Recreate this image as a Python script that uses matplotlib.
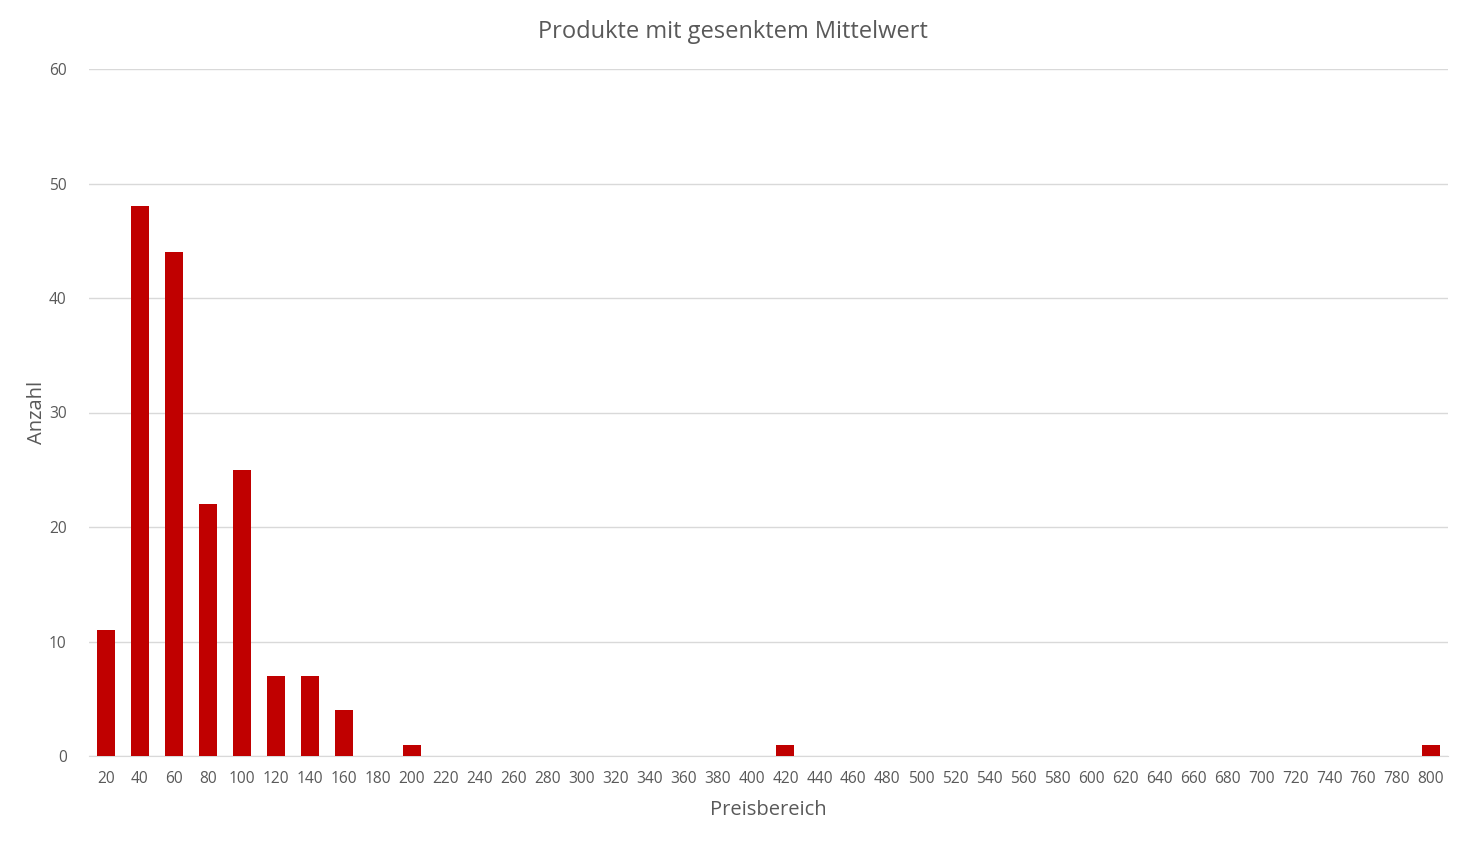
import matplotlib
matplotlib.use("Agg")
import matplotlib.pyplot as plt
import numpy as np

categories = [str(v) for v in range(20, 801, 20)]
counts_map = {"20": 11, "40": 48, "60": 44, "80": 22, "100": 25, "120": 7,
              "140": 7, "160": 4, "180": 0, "200": 1, "420": 1, "800": 1}
values = [counts_map.get(c, 0) for c in categories]
yticks = [0, 10, 20, 30, 40, 50, 60]

plt.rcParams['font.family'] = ['Open Sans', 'DejaVu Sans']
txt = '#595959'

fig = plt.figure(figsize=(14.66, 8.42), dpi=100)
ax = fig.add_axes([89/1466, 1-756/842, (1448-89)/1466, (756-69)/842])
x = np.arange(len(categories))
ax.bar(x, values, width=0.53, color='#C00000', zorder=3)
ax.set_xlim(-0.5, len(categories)-0.5)
ax.set_ylim(0, 60)
ax.set_xticks(x)
ax.set_xticklabels(categories)
ax.set_yticks(yticks)
ax.grid(axis='y', color='#d9d9d9', linewidth=1, zorder=0)
for s in ['top', 'right', 'left']:
    ax.spines[s].set_visible(False)
ax.spines['bottom'].set_color('#d9d9d9')
ax.tick_params(axis='both', length=0, labelsize=11.2, colors=txt)
ax.tick_params(axis='y', pad=16)
ax.tick_params(axis='x', pad=11)
ax.set_xlabel('Preisbereich', fontsize=14.5, color=txt, labelpad=9)
ax.set_ylabel('Anzahl', fontsize=14.5, color=txt, labelpad=0)
ax.yaxis.set_label_coords(-37/1359 * 1 - (89-37-0)/1359 + 37/1359 - 0.0, 0.5)
ax.yaxis.label.set_position((0, 0.5))
ax.yaxis.set_label_coords((37 - 89) / 1359, 0.5)
fig.text(733/1466, 1-30/842, 'Produkte mit gesenktem Mittelwert', ha='center', va='center',
         fontsize=17, color=txt)
fig.canvas.draw()
ax.title.set_position((0.5, 1.0))
fig.texts[0].set_position((733/1466, 1-32.5/842))
ax.yaxis.label.set_va('center')
fig.savefig('out.png', dpi=100)
